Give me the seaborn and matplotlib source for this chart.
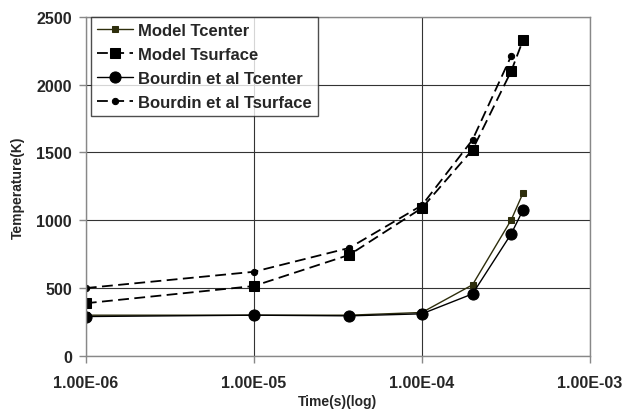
import matplotlib
matplotlib.use("Agg")
import matplotlib.pyplot as plt
import seaborn as sns
import numpy as np
import pandas as pd
from matplotlib.ticker import FixedLocator

# Data
t_model_center = [1e-6, 1e-5, 3.7e-5, 1e-4, 2e-4, 3.4e-4, 4e-4]
T_model_center = [300, 300, 300, 320, 524, 1003, 1202]
t_model_surface = [1e-6, 1e-5, 3.7e-5, 1e-4, 2e-4, 3.4e-4, 4e-4]
T_model_surface = [388, 515, 745, 1090, 1520, 2100, 2330]
t_bourdin_center = [1e-6, 1e-5, 3.7e-5, 1e-4, 2e-4, 3.4e-4, 4e-4]
T_bourdin_center = [290, 300, 295, 310, 457, 900, 1077]
t_bourdin_surface = [1e-6, 1e-5, 3.7e-5, 1e-4, 2e-4, 3.4e-4]
T_bourdin_surface = [500, 620, 796, 1110, 1593, 2212]

x_ticks = [1e-6, 1e-5, 1e-4, 1e-3]
x_tick_labels = ["1.00E-06", "1.00E-05", "1.00E-04", "1.00E-03"]
y_ticks = [0, 500, 1000, 1500, 2000, 2500]

sns.set_style("white")
plt.rcParams['font.family'] = ['Liberation Sans', 'DejaVu Sans']
plt.rcParams['font.weight'] = 'bold'

fig = plt.figure(figsize=(6.31, 4.14), dpi=100)
ax = fig.add_axes([0.136, 0.138, 0.799, 0.819])

olive = "#2e2e0c"
sns.lineplot(x=t_model_center, y=T_model_center, ax=ax, color=olive, lw=1.0,
             marker='s', markersize=5, markeredgecolor=olive, label="Model Tcenter")
sns.lineplot(x=t_model_surface, y=T_model_surface, ax=ax, color='black', lw=1.3,
             linestyle=(0, (6, 3)), marker='s', markersize=7.5, markeredgecolor='black',
             label="Model Tsurface")
sns.lineplot(x=t_bourdin_center, y=T_bourdin_center, ax=ax, color='black', lw=1.0,
             marker='o', markersize=8, markeredgecolor='black', label="Bourdin et al Tcenter")
sns.lineplot(x=t_bourdin_surface, y=T_bourdin_surface, ax=ax, color='black', lw=1.3,
             linestyle=(0, (6, 3)), marker='o', markersize=4.5, markeredgecolor='black',
             label="Bourdin et al Tsurface")

ax.set_xscale('log')
ax.set_xlim(1e-6, 1e-3)
ax.set_ylim(0, 2500)
ax.xaxis.set_major_locator(FixedLocator(x_ticks))
ax.xaxis.set_minor_locator(FixedLocator([]))
ax.set_xticklabels(x_tick_labels)
ax.set_yticks(y_ticks)
ax.grid(True, color='#333333', lw=0.8)
for s in ax.spines.values():
    s.set_color('#888888')
    s.set_linewidth(1.0)
ax.tick_params(axis='both', which='major', labelsize=11.5, length=5, width=1,
               color='#888888', direction='out', bottom=True, left=True)
ax.tick_params(axis='x', pad=9)
ax.tick_params(axis='y', pad=5)
for lab in ax.get_xticklabels() + ax.get_yticklabels():
    lab.set_fontweight('bold')
ax.set_xlabel("Time(s)(log)", fontsize=10, fontweight='bold', labelpad=3)
ax.set_ylabel("Temperature(K)", fontsize=10, fontweight='bold', labelpad=8)

leg = ax.legend(loc='upper left', bbox_to_anchor=(0.01, 1.0), frameon=True, fancybox=False,
                edgecolor='#222222', fontsize=12, handlelength=2.2, handletextpad=0.3,
                labelspacing=0.55, borderpad=0.35, borderaxespad=0.0)
leg.get_frame().set_linewidth(1.0)
for t in leg.get_texts():
    t.set_fontweight('bold')

fig.savefig("out.png", dpi=100)
